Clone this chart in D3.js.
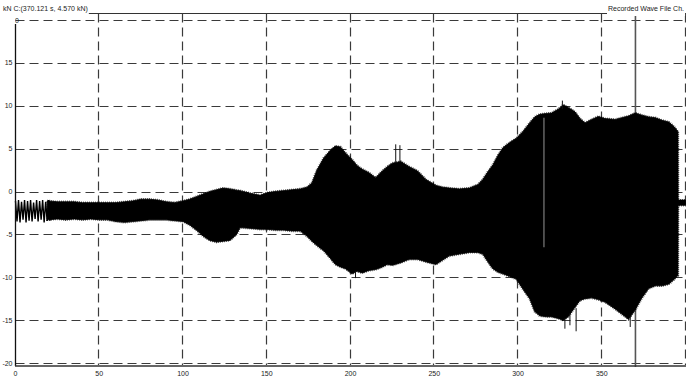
<!DOCTYPE html>
<html><head><meta charset="utf-8">
<script src="https://cdn.jsdelivr.net/npm/d3@7/dist/d3.min.js"></script>
<style>html,body{margin:0;padding:0;background:#fff;}svg{display:block;}</style>
</head><body>
<svg id="c" width="686" height="376"></svg>
<script>
// ---- data ----
const titleLeft = "kN C:(370.121 s, 4.570 kN)";
const titleRight = "Recorded Wave File Ch.";
const cursorTime = 370.121;
const xTicks = [0, 50, 100, 150, 200, 250, 300, 350];
const xGrid = [50, 100, 150, 200, 250, 300, 350, 400];
const yTicks = [-20, -15, -10, -5, 0, 5, 10, 15, 20];

// early, resolvable oscillation (0-21 s)
const earlyT = [0,0.9,1.8,2.7,3.6,4.5,5.4,6.3,7.2,8.1,9,9.9,10.8,11.7,12.6,13.5,14.4,15.3,16.2,17.1,18,18.9,19.8,20.7];
const earlyV = [-1.1,-3.5,-1.0,-3.6,-1.2,-3.3,-1.0,-3.6,-1.1,-3.4,-1.0,-3.5,-1.3,-3.2,-1.0,-3.5,-1.1,-3.3,-1.0,-3.6,-1.2,-3.4,-1.0,-3.4];

// envelope of the dense signal
const envT = [19,20,25,30,35,40,45,50,55,60,65,70,75,80,85,90,95,100,104,108,112,116,120,124,128,132,134,140,146,150,155,160,165,170,174,177,180,184,188,191,194,197,201,204,207,211,215,219,222,225,230,235,240,245,251,255,259,265,271,276,279,282,285,288,291,295,299,303,307,310,313,317,320,324,327,330,334,337,340,344,348,352,358,362,366,370,374,378,382,386,390,393,395.5,395.6,400];
const envHi = [-1.1,-1.1,-1.2,-1.2,-1.2,-1.3,-1.3,-1.3,-1.3,-1.3,-1.2,-1.1,-0.9,-0.9,-1.0,-1.2,-1.3,-1.1,-0.9,-0.6,-0.3,0.0,0.2,0.4,0.3,0.15,0.1,-0.2,-0.45,-0.15,0.0,0.1,0.2,0.3,0.5,1.0,2.5,3.9,4.8,5.3,5.2,4.5,3.7,3.0,2.6,2.2,1.6,2.4,2.9,3.3,3.5,2.9,2.4,1.4,0.7,0.5,0.4,0.3,0.4,0.8,1.4,2.3,3.1,4.2,5.1,5.7,6.2,7.0,8.0,8.7,9.0,9.1,9.15,9.6,10.1,9.8,9.3,8.5,8.0,8.4,8.75,8.5,8.4,8.6,8.8,9.15,8.9,8.7,8.6,8.3,8.1,7.6,7.0,-1.0,-1.0];
const envLo = [-3.3,-3.3,-3.2,-3.3,-3.2,-3.3,-3.2,-3.3,-3.3,-3.5,-3.6,-3.5,-3.4,-3.3,-3.3,-3.3,-3.4,-3.5,-3.9,-4.5,-5.2,-5.7,-5.9,-5.8,-5.7,-5.0,-4.2,-4.3,-4.4,-4.4,-4.5,-4.5,-4.6,-4.6,-5.2,-5.8,-6.3,-6.9,-7.8,-8.5,-8.8,-9.0,-9.6,-9.3,-9.5,-9.2,-9.1,-8.8,-8.5,-8.6,-8.3,-7.9,-7.9,-8.2,-8.5,-8.0,-7.5,-7.3,-7.1,-7.1,-7.3,-8.2,-9.0,-9.4,-9.6,-9.9,-10.2,-11.4,-12.5,-14.0,-14.5,-14.6,-14.6,-14.8,-15.0,-14.6,-13.5,-12.7,-12.5,-12.4,-12.6,-12.9,-13.7,-14.3,-14.9,-13.8,-12.4,-11.3,-11.0,-11.0,-10.8,-10.3,-9.8,-1.6,-1.6];

// isolated peaks sticking out of the envelope: [time, from, to]
const spikeT = [203, 227, 229.5, 326.5, 328, 334.7, 331, 367];
const spikeFrom = [-9.3, 3.3, 3.4, 9.6, -14.8, -13.6, -14.2, -14.5];
const spikeTo = [-10.1, 5.5, 5.4, 10.6, -16.0, -16.3, -15.6, -15.8];

// short dropout visible as a light line inside the black band
const dropT = [315.5];
const dropHi = [8.6];
const dropLo = [-6.5];

// ---- drawing ----
const svg = d3.select("#c");
const x = d3.scaleLinear().domain([0, 400]).range([15.5, 685.5]);
const y = d3.scaleLinear().domain([-20, 20]).range([363, 20]);
const gridCol = "#3a3a3a";
const font = "Liberation Sans, Arial, sans-serif";

svg.append("rect").attr("width", 686).attr("height", 376).attr("fill", "#fff");

// frame top line
svg.append("line").attr("x1", 15).attr("x2", 686).attr("y1", 13.5).attr("y2", 13.5)
  .attr("stroke", "#333").attr("stroke-width", 1);

// horizontal dashed grid
svg.append("g").selectAll("line").data(yTicks).join("line")
  .attr("x1", 15.5).attr("x2", 686)
  .attr("y1", d => Math.round(y(d)) + 0.5).attr("y2", d => Math.round(y(d)) + 0.5)
  .attr("stroke", gridCol).attr("stroke-width", 1.2).attr("stroke-dasharray", "9,5");

// vertical dashed grid
svg.append("g").selectAll("line").data(xGrid).join("line")
  .attr("x1", d => Math.round(x(d)) - 0.5).attr("x2", d => Math.round(x(d)) - 0.5)
  .attr("y1", 13.5).attr("y2", 365)
  .attr("stroke", gridCol).attr("stroke-width", 1.2).attr("stroke-dasharray", "9,5");

// cursor
svg.append("line").attr("x1", x(cursorTime)).attr("x2", x(cursorTime))
  .attr("y1", 13.5).attr("y2", 367).attr("stroke", "#555").attr("stroke-width", 1.6);

// envelope area
const env = envT.map((t, i) => ({ t, hi: envHi[i], lo: envLo[i] }));
const areaGen = d3.area().x(d => x(d.t)).y0(d => y(d.lo)).y1(d => y(d.hi));
svg.append("path").datum(env)
  .attr("d", areaGen)
  .attr("fill", "#000").attr("stroke", "#000").attr("stroke-width", 0.8);
// hairy edge (style only): a fine dotted stroke along the envelope outline
svg.append("path").datum(env)
  .attr("d", areaGen)
  .attr("fill", "none").attr("stroke", "#000").attr("stroke-width", 2.4)
  .attr("stroke-dasharray", "0.7,1.3").attr("opacity", 0.8);

// early oscillation
const early = earlyT.map((t, i) => ({ t, v: earlyV[i] }));
svg.append("path").datum(early)
  .attr("d", d3.line().x(d => x(d.t)).y(d => y(d.v)))
  .attr("fill", "none").attr("stroke", "#000").attr("stroke-width", 1.4);

// spikes
svg.append("g").selectAll("line").data(spikeT.map((t, i) => ({ t, a: spikeFrom[i], b: spikeTo[i] }))).join("line")
  .attr("x1", d => x(d.t)).attr("x2", d => x(d.t))
  .attr("y1", d => y(d.a)).attr("y2", d => y(d.b))
  .attr("stroke", "#111").attr("stroke-width", 1);

// dropout line
svg.append("g").selectAll("line").data(dropT.map((t, i) => ({ t, a: dropHi[i], b: dropLo[i] }))).join("line")
  .attr("x1", d => x(d.t)).attr("x2", d => x(d.t))
  .attr("y1", d => y(d.a)).attr("y2", d => y(d.b))
  .attr("stroke", "#bbb").attr("stroke-width", 0.8);

// left axis
svg.append("line").attr("x1", 15.5).attr("x2", 15.5).attr("y1", 24).attr("y2", 366)
  .attr("stroke", "#111").attr("stroke-width", 1.3);
// bottom axis
svg.append("line").attr("x1", 15).attr("x2", 686).attr("y1", 366).attr("y2", 366)
  .attr("stroke", "#333").attr("stroke-width", 1.5);

// y tick labels
svg.append("defs").append("clipPath").attr("id", "clipTop")
  .append("rect").attr("x", 15).attr("y", 0).attr("width", 20).attr("height", 40);
svg.append("g").selectAll("text").data(yTicks).join("text")
  .attr("x", d => d === 20 ? 19 : 12.5)
  .attr("y", d => y(d) + 2.5)
  .attr("clip-path", d => d === 20 ? "url(#clipTop)" : null)
  .attr("text-anchor", "end")
  .attr("font-family", font).attr("font-size", 7).attr("fill", "#222")
  .text(d => d);

// x tick labels
svg.append("g").selectAll("text").data(xTicks).join("text")
  .attr("x", d => x(d)).attr("y", 376)
  .attr("text-anchor", "middle")
  .attr("font-family", font).attr("font-size", 7).attr("fill", "#222")
  .text(d => d);

// titles with white background
const tl = svg.append("text").attr("x", 3).attr("y", 10.5)
  .attr("font-family", font).attr("font-size", 7).attr("fill", "#222").text(titleLeft);
const tr = svg.append("text").attr("x", 684).attr("y", 10.5).attr("text-anchor", "end")
  .attr("font-family", font).attr("font-size", 7).attr("fill", "#222").text(titleRight);
[tl, tr].forEach(t => {
  const b = t.node().getBBox();
  svg.insert("rect", () => t.node()).attr("x", b.x - 1).attr("y", b.y).attr("width", b.width + 2).attr("height", 16 - b.y)
    .attr("fill", "#fff");
});
</script>
</body></html>
